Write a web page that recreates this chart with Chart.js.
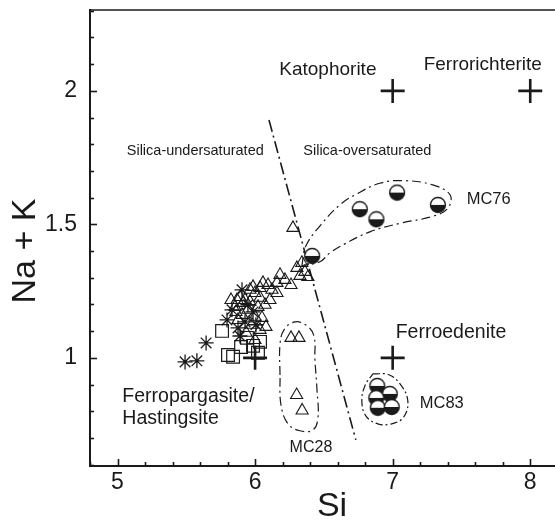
<!DOCTYPE html>
<html>
<head>
<meta charset="utf-8">
<title>Na + K vs Si</title>
<script src="https://cdn.jsdelivr.net/npm/chart.js@4/dist/chart.umd.min.js"></script>
<style>
  html, body { margin: 0; padding: 0; background: #fff; overflow: hidden; }
  #wrap { width: 555px; height: 522px; position: relative; }
</style>
</head>
<body>
<div id="wrap"><canvas id="c" width="555" height="522"></canvas></div>
<script>
// ---- data: [Si, Na + K] pairs -------------------------------------------
const endMembers = [[6, 1], [7, 1], [7, 2], [8, 2]];

const triangles = [
  [6.275, 1.487], [6.340, 1.356], [6.304, 1.337], [6.362, 1.322], [6.384, 1.303],
  [6.326, 1.307], [6.181, 1.311], [6.261, 1.273], [6.159, 1.281], [6.094, 1.273],
  [6.159, 1.243], [6.036, 1.262], [5.999, 1.243], [5.963, 1.255], [5.890, 1.228],
  [5.869, 1.217], [5.927, 1.217], [6.036, 1.225], [6.057, 1.281], [5.985, 1.266],
  [5.912, 1.206], [5.963, 1.210], [5.854, 1.191], [5.948, 1.180], [6.021, 1.191],
  [5.999, 1.154], [5.905, 1.161], [6.050, 1.150], [6.072, 1.199], [6.108, 1.217],
  [5.876, 1.142], [5.977, 1.124], [6.036, 1.105], [5.934, 1.094], [6.079, 1.116],
  [5.861, 1.172], [6.217, 1.292], [6.123, 1.255], [5.825, 1.217], [5.999, 1.067]
];
const mc28Triangles = [[6.261, 1.075], [6.319, 1.075], [6.302, 0.861], [6.342, 0.803]];

const stars = [
  [5.491, 0.985], [5.577, 0.989], [5.644, 1.056], [5.796, 1.142], [5.890, 1.082],
  [5.985, 1.172], [5.927, 1.135], [5.876, 1.112], [5.948, 1.199], [6.006, 1.124],
  [5.832, 1.180], [5.905, 1.255]
];

const squares = [
  [5.760, 1.101], [5.803, 1.011], [5.840, 1.004], [5.898, 1.041], [5.985, 1.045],
  [6.036, 1.060], [6.021, 1.019], [5.941, 1.075]
];

const mc76 = [[6.761, 1.557], [6.882, 1.519], [7.032, 1.619], [7.329, 1.573], [6.415, 1.382]];
const mc83 = [[6.888, 0.895], [6.979, 0.865], [6.881, 0.850], [6.892, 0.813], [6.993, 0.816]];

// silica saturation boundary
const saturationLine = [[6.101, 1.891], [6.732, 0.693]];

// group outlines
const mc76Outline = [
  [6.340, 1.345], [6.369, 1.419], [6.478, 1.498], [6.616, 1.573], [6.739, 1.614],
  [6.906, 1.654], [7.073, 1.664], [7.291, 1.648], [7.418, 1.610], [7.400, 1.560],
  [7.291, 1.530], [7.052, 1.504], [6.834, 1.472], [6.652, 1.427], [6.543, 1.393],
  [6.471, 1.360], [6.340, 1.345]
];
const mc28Outline = [
  [6.181, 0.936], [6.181, 1.049], [6.210, 1.105], [6.290, 1.135], [6.377, 1.120],
  [6.428, 1.082], [6.435, 0.993], [6.450, 0.880], [6.457, 0.775], [6.420, 0.730],
  [6.326, 0.727], [6.239, 0.753], [6.188, 0.824], [6.181, 0.936]
];
const mc83Outline = [
  [6.856, 0.940], [6.972, 0.937], [7.059, 0.899], [7.110, 0.839], [7.081, 0.779],
  [6.993, 0.753], [6.892, 0.753], [6.805, 0.783], [6.776, 0.839], [6.798, 0.895],
  [6.856, 0.940]
];

// axis tick labels
const xTickLabels = [5, 6, 7, 8];
const yTickLabels = [1, 1.5, 2];

// ---- styling ---------------------------------------------------------------
const INK = '#1a1a1a';
const FONT = '"Liberation Sans", Arial, Helvetica, sans-serif';

// text placed in data space: [text, Si, Na+K, align, size]
const annotations = [
  ['Katophorite', 6.529, 2.079, 'center', 19],
  ['Ferrorichterite', 7.655, 2.097, 'center', 19],
  ['Silica-undersaturated', 5.565, 1.775, 'center', 14.5],
  ['Silica-oversaturated', 6.816, 1.775, 'center', 14.5],
  ['MC76', 7.538, 1.592, 'left', 16.5],
  ['Ferroedenite', 7.022, 1.094, 'left', 19.5],
  ['MC83', 7.197, 0.828, 'left', 16.5],
  ['Ferropargasite/', 5.035, 0.854, 'left', 19.5],
  ['Hastingsite', 5.035, 0.772, 'left', 19.5],
  ['MC28', 6.406, 0.663, 'center', 16]
];

const toXY = arr => arr.map(([x, y]) => ({ x, y }));

// marker: disc with a white upper half and a black lower half
function halfDisc(r) {
  const c = document.createElement('canvas');
  const s = Math.ceil(r * 2 + 3);
  c.width = c.height = s;
  const g = c.getContext('2d');
  const m = s / 2;
  g.beginPath(); g.arc(m, m, r, Math.PI, 0); g.closePath(); g.fillStyle = '#fff'; g.fill();
  g.beginPath(); g.arc(m, m, r, 0, Math.PI); g.closePath(); g.fillStyle = INK; g.fill();
  g.beginPath(); g.arc(m, m, r, 0, Math.PI * 2); g.lineWidth = 1.3; g.strokeStyle = INK; g.stroke();
  return c;
}
const halfDiscImg = halfDisc(7.5);

function markerSet(data, style, radius, width) {
  return {
    data: toXY(data), showLine: false, pointStyle: style, pointRadius: radius,
    pointBorderColor: INK, pointBackgroundColor: 'rgba(0,0,0,0)', pointBorderWidth: width
  };
}
function outlineSet(data, dash, width) {
  return {
    data: toXY(data), showLine: true, pointRadius: 0, borderColor: INK,
    borderWidth: width, borderDash: dash, tension: 0.4, fill: false
  };
}

const overlay = {
  id: 'overlay',
  afterDraw(chart) {
    const { ctx, chartArea: a, scales: { x, y } } = chart;
    ctx.save();
    ctx.strokeStyle = INK;
    ctx.lineCap = 'butt';

    // top frame line
    ctx.lineWidth = 1.6;
    ctx.beginPath(); ctx.moveTo(a.left, a.top); ctx.lineTo(a.right, a.top); ctx.stroke();

    // inward ticks
    ctx.lineWidth = 1.6;
    x.ticks.forEach(t => {
      const major = Math.abs(t.value - Math.round(t.value)) < 1e-6;
      const px = Math.round(x.getPixelForValue(t.value)) + 0.5;
      ctx.beginPath(); ctx.moveTo(px, a.bottom); ctx.lineTo(px, a.bottom - (major ? 7 : 4)); ctx.stroke();
    });
    y.ticks.forEach(t => {
      const v = Math.round(t.value * 10);
      const major = v % 5 === 0;
      const py = Math.round(y.getPixelForValue(t.value)) + 0.5;
      ctx.beginPath(); ctx.moveTo(a.left, py); ctx.lineTo(a.left + (major ? 7 : 4), py); ctx.stroke();
    });

    // annotations
    ctx.fillStyle = INK;
    ctx.textBaseline = 'middle';
    annotations.forEach(([text, sx, sy, align, size]) => {
      ctx.font = `${size}px ${FONT}`;
      ctx.textAlign = align;
      ctx.fillText(text, x.getPixelForValue(sx), y.getPixelForValue(sy));
    });

    // axis titles
    ctx.textAlign = 'center';
    ctx.font = `34px ${FONT}`;
    ctx.fillText('Si', 332, 507);
    ctx.save();
    ctx.translate(26, 251);
    ctx.rotate(-Math.PI / 2);
    ctx.fillText('Na + K', 0, 0);
    ctx.restore();

    ctx.restore();
  }
};

new Chart(document.getElementById('c'), {
  type: 'scatter',
  data: {
    datasets: [
      markerSet(endMembers, 'cross', 12, 2.6),
      { data: toXY(mc76), showLine: false, pointStyle: halfDiscImg, pointRadius: 7.5 },
      { data: toXY(mc83), showLine: false, pointStyle: halfDiscImg, pointRadius: 7.5 },
      markerSet(stars, 'star', 7.5, 1.3),
      markerSet(squares, 'rect', 9, 1.2),
      markerSet(triangles, 'triangle', 7, 1.1),
      markerSet(mc28Triangles, 'triangle', 7, 1.1),
      outlineSet(saturationLine, [12, 4, 2, 4], 1.6),
      outlineSet(mc76Outline, [9, 4, 2, 4], 1.2),
      outlineSet(mc28Outline, [9, 4, 2, 4], 1.2),
      outlineSet(mc83Outline, [7, 3, 2, 3], 1.2)
    ]
  },
  options: {
    responsive: false,
    animation: false,
    devicePixelRatio: 1,
    layout: { autoPadding: false, padding: { top: 10, right: 0, left: 0, bottom: 0 } },
    plugins: { legend: { display: false }, tooltip: { enabled: false } },
    scales: {
      x: {
        type: 'linear', min: 4.8, max: 8.18,
        grid: { display: false, drawTicks: false },
        border: { display: true, color: INK, width: 2 },
        ticks: {
          stepSize: 0.2, includeBounds: false, autoSkip: false, maxRotation: 0,
          padding: 3, color: INK, font: { family: FONT, size: 23 },
          callback: v => {
            const r = Math.round(v);
            return Math.abs(v - r) < 1e-6 && xTickLabels.includes(r) ? String(r) : '';
          }
        },
        afterFit: s => { s.height = 56; s.paddingLeft = 0; s.paddingRight = 0; }
      },
      y: {
        type: 'linear', min: 0.595, max: 2.303,
        grid: { display: false, drawTicks: false },
        border: { display: true, color: INK, width: 2 },
        ticks: {
          stepSize: 0.1, includeBounds: false, autoSkip: false,
          padding: 13, color: INK, font: { family: FONT, size: 23 },
          callback: v => {
            const r = Math.round(v * 10) / 10;
            return yTickLabels.includes(r) ? String(r) : '';
          }
        },
        afterFit: s => { s.width = 90; s.paddingTop = 0; s.paddingBottom = 0; }
      }
    }
  },
  plugins: [overlay]
});
</script>
</body>
</html>
